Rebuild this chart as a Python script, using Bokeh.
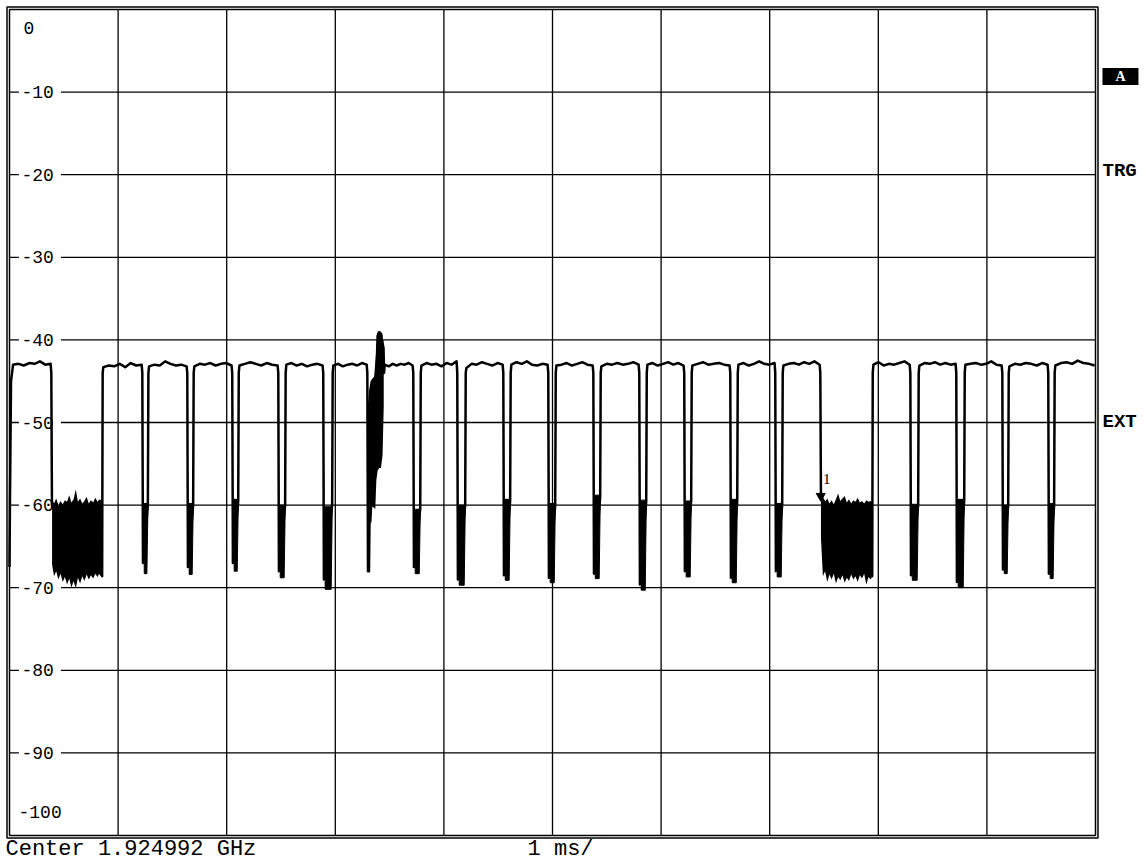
from bokeh.plotting import figure
from bokeh.core.properties import value
from bokeh.embed import file_html
from bokeh.resources import INLINE

# ---------------- data (time in ms, level in dB) ----------------
X_TICKS = [1, 2, 3, 4, 5, 6, 7, 8, 9]
Y_TICKS = [-10, -20, -30, -40, -50, -60, -70, -80, -90]
Y_LABELS = ["0", "-10", "-20", "-30", "-40", "-50", "-60", "-70", "-80", "-90", "-100"]
Y_LABEL_VALUES = [0, -10, -20, -30, -40, -50, -60, -70, -80, -90, -100]
X_MIN, X_MAX = 0, 10
Y_MIN, Y_MAX = -100, 0

# carrier-on (high) segments
HIGH_START = [0.025, 0.856, 1.277, 1.694, 2.109, 2.541, 2.974, 3.447, 3.785, 4.199, 4.613,
              5.028, 5.442, 5.866, 6.280, 6.704, 7.118, 7.947, 8.370, 8.794, 9.199, 9.622]
HIGH_END = [0.387, 1.225, 1.639, 2.053, 2.477, 2.891, 3.297, 3.720, 4.125, 4.549, 4.963,
            5.378, 5.801, 6.215, 6.639, 7.053, 7.468, 8.297, 8.720, 9.144, 9.567, 10.0]
HIGH_RIPPLE = [
    [-43.0, -42.9, -43.1, -42.8, -42.9, -42.6, -43.0, -42.9],
    [-43.3, -43.1, -43.2, -42.9, -43.3, -42.8, -43.1, -43.0],
    [-43.2, -43.0, -43.1, -42.6, -42.9, -43.1, -43.0, -43.2],
    [-43.2, -42.9, -43.0, -42.8, -43.1, -42.9, -42.8, -43.1],
    [-43.1, -42.9, -42.7, -42.9, -43.1, -42.8, -43.0, -43.1],
    [-43.0, -42.8, -43.1, -42.9, -43.2, -43.0, -42.9, -43.1],
    [-43.1, -42.9, -43.2, -43.0, -42.9, -43.1, -42.8, -43.0],
    [-43.0, -43.2, -42.9, -43.1, -42.9, -43.0, -42.8, -43.1],
    [-43.1, -42.8, -43.0, -42.9, -43.2, -42.8, -43.0, -42.6],
    [-43.4, -42.9, -43.0, -42.7, -42.9, -43.1, -42.8, -43.0],
    [-43.0, -42.7, -42.9, -42.6, -43.0, -43.1, -42.9, -43.0],
    [-43.1, -43.0, -42.8, -43.1, -42.9, -42.7, -43.0, -43.1],
    [-43.2, -42.9, -43.0, -42.8, -43.0, -42.9, -42.7, -43.0],
    [-43.0, -42.8, -43.1, -42.9, -42.7, -43.0, -42.8, -43.1],
    [-43.1, -42.9, -42.7, -43.0, -42.9, -42.8, -43.0, -43.1],
    [-43.0, -42.8, -43.1, -42.9, -42.6, -42.9, -43.0, -42.8],
    [-43.1, -42.9, -42.8, -43.0, -42.7, -42.9, -42.6, -43.0],
    [-43.0, -42.7, -43.1, -42.9, -43.0, -42.8, -42.6, -43.0],
    [-43.1, -42.8, -42.9, -42.7, -43.0, -42.8, -43.0, -42.9],
    [-43.0, -42.9, -42.8, -43.0, -42.9, -42.6, -43.0, -43.1],
    [-43.2, -42.9, -43.0, -42.8, -42.9, -43.1, -42.8, -43.0],
    [-43.1, -42.8, -42.7, -42.9, -42.5, -42.8, -42.9, -43.1],
]
# transitions between segments: depth of falling edge, level the rising edge starts from
GAP_LOW = [-60.0, -67.0, -67.5, -67.0, -68.0, -69.0, -68.0, -67.5, -69.0, -68.5, -68.8,
           -68.3, -69.6, -68.0, -68.8, -68.0, -59.0, -68.5, -69.3, -67.8, -68.3]
GAP_RISE = [-68.6, -60.0, -60.0, -59.5, -60.0, -60.0, -41.0, -60.5, -60.0, -59.5, -60.0,
            -59.0, -59.5, -59.5, -59.5, -60.0, -68.6, -60.0, -59.5, -60.0, -60.0]
# extra trace points inside the burst gap (index 6)
BURST_GAP = 6
BURST_LINE_T = [3.304, 3.310, 3.318, 3.322, 3.345, 3.372, 3.40, 3.43]
BURST_LINE_DB = [-60.0, -68.0, -58.0, -62.0, -56.0, -44.0, -39.5, -40.0]
START_T = [0.0, 0.004, 0.014]
START_DB = [-67.5, -60.0, -45.0]

# short off-slot dips (noise bands)
DIP_T0 = [1.235, 1.649, 2.063, 2.487, 2.901, 3.730, 4.135, 4.559, 4.973, 5.388, 5.811,
          6.225, 6.649, 7.063, 8.307, 8.730, 9.154, 9.577]
DIP_T1 = [1.275, 1.692, 2.107, 2.539, 2.972, 3.783, 4.197, 4.611, 5.026, 5.440, 5.864,
          6.278, 6.702, 7.116, 8.368, 8.792, 9.197, 9.620]
DIP_TOP = [-59.8, -59.8, -59.3, -60.0, -60.2, -60.5, -60.0, -59.3, -59.8, -58.8, -59.4,
           -59.5, -59.3, -59.8, -59.9, -59.3, -60.0, -59.8]
DIP_BOTTOM = [-68.3, -68.4, -68.0, -68.8, -70.2, -68.3, -69.7, -69.1, -69.4, -68.9, -70.3,
              -68.7, -69.4, -68.7, -69.1, -70.0, -68.3, -68.9]

# long noise blocks
N1_T = [0.392, 0.41, 0.43, 0.45, 0.47, 0.49, 0.51, 0.53, 0.55, 0.57, 0.59, 0.61, 0.63,
        0.65, 0.67, 0.69, 0.71, 0.73, 0.75, 0.77, 0.79, 0.81, 0.83, 0.852]
N1_TOP = [-59.3, -59.8, -59.2, -60.0, -59.5, -59.9, -59.4, -59.6, -58.8, -59.7, -59.3, -58.1,
          -59.6, -59.2, -59.8, -59.5, -59.0, -59.8, -59.4, -59.7, -59.1, -59.6, -59.3, -59.5]
N1_BOT = [-67.2, -68.6, -68.0, -69.0, -68.3, -69.3, -68.7, -69.6, -68.9, -70.0, -69.2, -70.1,
          -68.8, -69.5, -68.6, -69.2, -68.4, -69.0, -68.5, -68.9, -68.3, -68.7, -68.2, -68.6]
N2_T = [7.472, 7.49, 7.51, 7.53, 7.55, 7.57, 7.59, 7.61, 7.63, 7.65, 7.67, 7.69, 7.71,
        7.73, 7.75, 7.77, 7.79, 7.81, 7.83, 7.85, 7.87, 7.89, 7.91, 7.93, 7.945]
N2_TOP = [-58.7, -59.0, -59.6, -59.2, -59.8, -59.4, -59.9, -59.3, -58.6, -59.5, -59.2, -58.9,
          -59.7, -59.3, -59.8, -59.4, -59.6, -59.1, -59.7, -59.5, -59.8, -59.4, -59.6, -59.5, -59.7]
N2_BOT = [-64.0, -68.6, -68.0, -69.3, -68.4, -69.0, -68.3, -69.5, -68.7, -69.1, -68.5, -69.4,
          -68.8, -69.2, -68.4, -69.0, -68.6, -69.3, -68.5, -68.9, -68.3, -69.6, -68.7, -69.0, -68.6]
# burst near 3.3-3.45 ms
SP_T = [3.300, 3.312, 3.325, 3.340, 3.355, 3.368, 3.378, 3.390, 3.405, 3.420, 3.435, 3.446]
SP_TOP = [-48.0, -46.0, -45.0, -44.7, -44.5, -44.0, -39.5, -39.0, -38.9, -39.0, -39.3, -41.0]
SP_BOT = [-57.5, -58.5, -59.5, -60.2, -60.3, -60.5, -57.0, -55.8, -55.5, -55.5, -54.0, -48.0]

MARKER_T = [7.47]
MARKER_DB = [-58.9]

# ---------------- build trace ----------------
tx = list(START_T)
ty = list(START_DB)
for i in range(len(HIGH_START)):
    s, e = HIGH_START[i], HIGH_END[i]
    r = HIGH_RIPPLE[i]
    n = len(r)
    for k, v in enumerate(r):
        tx.append(s + 0.008 + k * (e - s - 0.016) / (n - 1))
        ty.append(v)
    if i < len(GAP_LOW):
        nxt = HIGH_START[i + 1]
        tx += [e - 0.002, e + 0.004]
        ty += [-44.0, GAP_LOW[i]]
        if i == BURST_GAP:
            tx += BURST_LINE_T
            ty += BURST_LINE_DB
        tx += [nxt - 0.003, nxt + 0.002]
        ty += [GAP_RISE[i], -44.0]

FONT = "Liberation Mono"

# frame covers the whole canvas; data area 0..10 ms maps to px 9..1095,
# 0..-100 dB maps to px 9..835
PX_PER_MS = 108.6
PX_PER_DB = 8.26
x_lo = X_MIN - 9 / PX_PER_MS
x_hi = X_MAX + (1146 - 1095) / PX_PER_MS
y_hi = Y_MAX + 9 / PX_PER_DB
y_lo = Y_MIN - (867 - 835) / PX_PER_DB

p = figure(width=1146, height=867, x_range=(x_lo, x_hi), y_range=(y_lo, y_hi),
           output_backend="svg", toolbar_location=None,
           min_border_left=0, min_border_right=0, min_border_top=0, min_border_bottom=0)
p.xaxis.visible = False
p.yaxis.visible = False
p.grid.visible = False
p.outline_line_color = None
p.background_fill_color = "white"
p.border_fill_color = "white"

# grid
p.segment(x0=X_TICKS, y0=[Y_MIN] * len(X_TICKS), x1=X_TICKS, y1=[Y_MAX] * len(X_TICKS),
          line_color="black", line_width=1.3)
p.segment(x0=[X_MIN] * len(Y_TICKS), y0=Y_TICKS, x1=[X_MAX] * len(Y_TICKS), y1=Y_TICKS,
          line_color="black", line_width=1.3)

# y labels inside the plot (white box hides grid line)
lab_x = []
lab_y = []
for v in Y_LABEL_VALUES:
    if v == 0:
        lab_x.append(0.13); lab_y.append(-2.3)
    elif v == -100:
        lab_x.append(0.083); lab_y.append(-97.2)
    else:
        lab_x.append(0.11); lab_y.append(v)
box_x = [x + 0.17 for x, v in zip(lab_x, Y_LABEL_VALUES) if v not in (0, -100)]
box_y = [v for v in Y_LABEL_VALUES if v not in (0, -100)]
p.rect(box_x, box_y, width=42, height=20, width_units="screen", height_units="screen",
       fill_color="white", line_color=None)
p.text(lab_x, lab_y, text=Y_LABELS, text_font=value(FONT), text_font_size="18px",
       text_align="left", text_baseline="middle", text_color="black")

# noise bands
p.varea(x=N1_T, y1=N1_BOT, y2=N1_TOP, fill_color="black")
p.varea(x=N2_T, y1=N2_BOT, y2=N2_TOP, fill_color="black")
p.varea(x=SP_T, y1=SP_BOT, y2=SP_TOP, fill_color="black")
dip_xs = [[a, b, b - 0.01, a + 0.006] for a, b in zip(DIP_T0, DIP_T1)]
dip_ys = [[t, t, bt, bt] for t, bt in zip(DIP_TOP, DIP_BOTTOM)]
p.patches(dip_xs, dip_ys, fill_color="black", line_color="black", line_width=1)

p.line(tx, ty, line_color="black", line_width=2.5, line_join="round")

p.scatter(MARKER_T, MARKER_DB, marker="inverted_triangle", size=9, color="black")
p.text(x=[7.49], y=[-56.8], text=["1"], text_font=value("Liberation Serif"),
       text_font_size="15px", text_align="left", text_baseline="middle", text_color="black")

# frame border (double line look)
p.quad(left=[X_MIN], right=[X_MAX], bottom=[Y_MIN], top=[Y_MAX],
       fill_color=None, line_color="black", line_width=1.5)
p.rect(x=[(X_MIN + X_MAX) / 2], y=[(Y_MIN + Y_MAX) / 2],
       width=1086 + 5, height=826 + 5, width_units="screen", height_units="screen",
       fill_color=None, line_color="black", line_width=1.5)

# right side annotations
p.rect(x=[10.23], y=[-8.1], width=36, height=17, width_units="screen", height_units="screen",
       fill_color="black", line_color=None)
p.text(x=[10.23], y=[-8.1], text=["A"], text_font=value("Liberation Serif"),
       text_font_style="bold", text_font_size="14px", text_color="white",
       text_align="center", text_baseline="middle")
p.text(x=[10.065, 10.065], y=[-19.5, -49.9], text=["TRG", "EXT"], text_font=value(FONT),
       text_font_style="bold", text_font_size="19px", text_color="black",
       text_align="left", text_baseline="middle")

# bottom annotations
p.text(x=[-0.037, 4.77], y=[-101.7, -101.7], text=["Center 1.924992 GHz", "1 ms/"],
       text_font=value(FONT), text_font_size="22px", text_color="black",
       text_align="left", text_baseline="middle")

open("out.html", "w").write(file_html(p, INLINE))
